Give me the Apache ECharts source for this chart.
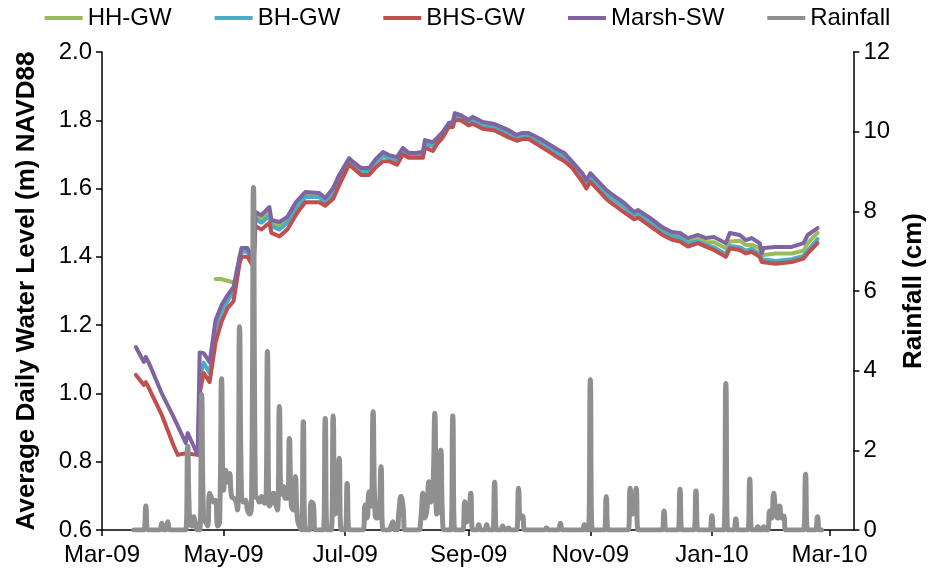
<!DOCTYPE html>
<html>
<head>
<meta charset="utf-8">
<script src="https://cdn.jsdelivr.net/npm/echarts@6/dist/echarts.min.js"></script>
<style>
html,body{margin:0;padding:0;background:#fff;}
#chart{width:935px;height:586px;}
</style>
</head>
<body>
<div id="chart"></div>
<script>
// ---- Data ----
const seriesNames = ['HH-GW', 'BH-GW', 'BHS-GW', 'Marsh-SW', 'Rainfall'];
const tickDates = ['2009-03-01','2009-05-01','2009-07-01','2009-09-01','2009-11-01','2010-01-01','2010-03-01'];
const tickLabels = ['Mar-09','May-09','Jul-09','Sep-09','Nov-09','Jan-10','Mar-10'];
const xMinDate = '2009-03-01';
const xMaxDate = '2010-03-13';

const levelDates = [
 '2009-03-18','2009-03-22','2009-03-23','2009-03-25','2009-03-31','2009-04-06','2009-04-08','2009-04-12','2009-04-13','2009-04-18',
 '2009-04-19','2009-04-21','2009-04-24','2009-04-27','2009-04-30','2009-05-03','2009-05-06','2009-05-07','2009-05-09','2009-05-10',
 '2009-05-13','2009-05-15','2009-05-16','2009-05-17','2009-05-20','2009-05-24','2009-05-25','2009-05-29','2009-06-02','2009-06-06',
 '2009-06-07','2009-06-11','2009-06-18','2009-06-21','2009-06-25','2009-06-28','2009-07-03','2009-07-05','2009-07-09','2009-07-13',
 '2009-07-16','2009-07-20','2009-07-23','2009-07-27','2009-07-30','2009-08-02','2009-08-05','2009-08-09','2009-08-10','2009-08-14',
 '2009-08-16','2009-08-19','2009-08-22','2009-08-24','2009-08-25','2009-08-28','2009-09-01','2009-09-03','2009-09-08','2009-09-14',
 '2009-09-21','2009-09-25','2009-09-28','2009-10-01','2009-10-08','2009-10-16','2009-10-19','2009-10-23','2009-10-28','2009-10-30',
 '2009-11-01','2009-11-09','2009-11-11','2009-11-18','2009-11-23','2009-11-25','2009-12-01','2009-12-07','2009-12-12','2009-12-16',
 '2009-12-20','2009-12-25','2009-12-29','2010-01-02','2010-01-08','2010-01-10','2010-01-15','2010-01-18','2010-01-21','2010-01-25',
 '2010-01-26','2010-01-27','2010-02-02','2010-02-10','2010-02-16','2010-02-18','2010-02-23'
];

const marshSw = [
 1.136,1.092,1.107,1.083,1.000,0.930,0.905,0.855,0.884,0.820,
 1.120,1.118,1.092,1.215,1.259,1.288,1.312,1.317,1.400,1.426,
 1.426,1.400,1.382,1.531,1.522,1.546,1.508,1.502,1.517,1.558,
 1.561,1.590,1.587,1.572,1.602,1.640,1.689,1.678,1.660,1.660,
 1.684,1.707,1.698,1.692,1.719,1.704,1.704,1.707,1.742,1.736,
 1.748,1.766,1.792,1.795,1.821,1.815,1.801,1.810,1.795,1.789,
 1.771,1.757,1.763,1.763,1.742,1.713,1.704,1.678,1.645,1.625,
 1.645,1.596,1.587,1.558,1.531,1.537,1.514,1.487,1.473,1.470,
 1.455,1.464,1.455,1.458,1.440,1.470,1.464,1.449,1.455,1.440,
 1.411,1.426,1.429,1.429,1.440,1.464,1.484
];

const bhsGw = [
 1.054,1.025,1.033,1.010,0.937,0.846,0.820,0.825,0.826,0.820,
 1.000,1.060,1.033,1.150,1.210,1.250,1.270,1.275,1.380,1.400,
 1.400,1.380,1.370,1.490,1.480,1.500,1.470,1.460,1.480,1.520,
 1.530,1.560,1.560,1.550,1.570,1.610,1.670,1.660,1.640,1.640,
 1.660,1.680,1.680,1.670,1.700,1.690,1.690,1.690,1.720,1.710,
 1.730,1.750,1.780,1.780,1.800,1.800,1.785,1.790,1.775,1.770,
 1.750,1.740,1.745,1.745,1.720,1.690,1.680,1.660,1.620,1.600,
 1.620,1.570,1.560,1.530,1.510,1.515,1.490,1.465,1.450,1.445,
 1.430,1.440,1.430,1.420,1.400,1.425,1.420,1.410,1.415,1.400,
 1.385,1.390,1.380,1.385,1.395,1.410,1.440
];

const bhGw = [
 null,null,null,null,null,null,null,null,null,null,
 1.050,1.090,1.060,1.190,1.240,1.270,1.300,1.300,1.390,1.415,
 1.415,1.390,1.375,1.510,1.500,1.520,1.490,1.480,1.500,1.540,
 1.545,1.575,1.575,1.560,1.585,1.625,1.680,1.670,1.650,1.650,
 1.675,1.695,1.690,1.680,1.710,1.695,1.695,1.695,1.730,1.725,
 1.740,1.755,1.785,1.785,1.810,1.805,1.790,1.800,1.780,1.780,
 1.760,1.745,1.750,1.750,1.730,1.700,1.690,1.670,1.635,1.610,
 1.630,1.580,1.575,1.545,1.520,1.525,1.500,1.475,1.460,1.455,
 1.440,1.445,1.435,1.428,1.408,1.432,1.428,1.418,1.423,1.408,
 1.393,1.398,1.388,1.393,1.403,1.418,1.452
];

const hhGw = [
 null,null,null,null,null,null,null,null,null,null,
 null,null,null,1.335,1.335,1.330,1.325,1.310,1.395,1.420,
 1.420,1.395,1.378,1.520,1.510,1.530,1.500,1.490,1.505,1.547,
 1.550,1.580,1.578,1.563,1.593,1.632,1.682,1.672,1.653,1.653,
 1.678,1.700,1.692,1.685,1.712,1.698,1.698,1.700,1.735,1.730,
 1.742,1.760,1.786,1.790,1.814,1.808,1.795,1.803,1.784,1.783,
 1.765,1.750,1.756,1.756,1.735,1.705,1.697,1.675,1.635,1.615,
 1.635,1.585,1.578,1.548,1.525,1.530,1.505,1.478,1.462,1.460,
 1.443,1.452,1.443,1.443,1.425,1.445,1.447,1.435,1.435,1.425,
 1.405,1.410,1.410,1.410,1.418,1.440,1.470
];

// Rainfall (cm): days with rain; every other day in the record is 0
const rainStart = '2009-03-17';
const rainEnd = '2010-02-25';
const rainDates = [
 '2009-03-23','2009-03-31','2009-04-03','2009-04-13','2009-04-14','2009-04-15','2009-04-16','2009-04-17','2009-04-20','2009-04-21',
 '2009-04-22','2009-04-23','2009-04-24','2009-04-25','2009-04-26','2009-04-27','2009-04-28','2009-04-29','2009-04-30','2009-05-01',
 '2009-05-02','2009-05-03','2009-05-04','2009-05-05','2009-05-06','2009-05-07','2009-05-08','2009-05-09','2009-05-10','2009-05-11',
 '2009-05-12','2009-05-13','2009-05-14','2009-05-15','2009-05-16','2009-05-17','2009-05-18','2009-05-19','2009-05-20','2009-05-21',
 '2009-05-22','2009-05-23','2009-05-24','2009-05-25','2009-05-26','2009-05-27','2009-05-28','2009-05-29','2009-05-30','2009-05-31',
 '2009-06-01','2009-06-02','2009-06-03','2009-06-04','2009-06-05','2009-06-06','2009-06-07','2009-06-08','2009-06-10','2009-06-14',
 '2009-06-15','2009-06-21','2009-06-25','2009-06-26','2009-06-27','2009-06-28','2009-07-02','2009-07-11','2009-07-12','2009-07-13',
 '2009-07-14','2009-07-15','2009-07-16','2009-07-17','2009-07-18','2009-07-19','2009-07-24','2009-07-25','2009-07-28','2009-07-29',
 '2009-07-30','2009-08-08','2009-08-09','2009-08-10','2009-08-11','2009-08-12','2009-08-13','2009-08-14','2009-08-15','2009-08-16',
 '2009-08-17','2009-08-18','2009-08-19','2009-08-24','2009-08-30','2009-08-31','2009-09-01','2009-09-02','2009-09-06','2009-09-10',
 '2009-09-14','2009-09-18','2009-09-21','2009-09-26','2009-09-27','2009-09-28','2009-10-10','2009-10-17','2009-10-29','2009-11-01',
 '2009-11-09','2009-11-21','2009-11-22','2009-11-23','2009-11-24','2009-12-08','2009-12-16','2009-12-24','2010-01-01','2010-01-08',
 '2010-01-13','2010-01-20','2010-01-24','2010-01-27','2010-01-30','2010-01-31','2010-02-01','2010-02-02','2010-02-03','2010-02-04',
 '2010-02-05','2010-02-06','2010-02-17','2010-02-23'
];
const rainValues = [
 0.60,0.17,0.21,2.10,0.20,0.10,0.33,0.15,3.40,0.25,
 0.20,0.10,0.92,0.80,0.70,0.75,0.10,0.20,3.80,1.00,
 1.50,1.20,1.42,0.84,0.80,0.75,0.50,5.10,0.90,0.70,
 0.75,0.50,0.40,0.60,8.60,0.84,0.80,0.70,0.84,0.70,
 0.67,4.48,0.60,0.70,0.92,0.67,0.50,3.10,0.90,1.09,
 0.80,0.80,2.30,0.60,0.50,1.34,0.30,0.10,2.72,0.70,
 0.65,2.80,2.86,0.40,0.60,1.80,1.17,0.63,0.30,0.96,
 0.60,2.97,0.40,0.30,0.40,1.59,0.10,0.21,0.50,0.84,
 0.60,0.30,0.92,0.30,0.50,1.21,0.70,1.00,2.93,0.40,
 0.50,2.00,0.10,2.86,0.71,0.20,0.30,0.92,0.13,0.13,
 1.20,0.10,0.05,1.05,0.30,0.35,0.05,0.17,0.13,3.77,
 0.84,1.05,0.40,0.45,1.05,0.48,1.02,0.98,0.36,3.68,
 0.28,1.28,0.08,0.08,0.48,0.30,0.92,0.50,0.30,0.60,
 0.30,0.35,1.40,0.33
];

// ---- helpers ----
function dayTime(s) {
  const p = s.split('-').map(Number);
  return Date.UTC(p[0], p[1] - 1, p[2]);
}
function pad(n) { return (n < 10 ? '0' : '') + n; }
function buildRain() {
  const map = {};
  rainDates.forEach((d, i) => { map[d] = rainValues[i]; });
  const out = [];
  let t = dayTime(rainStart);
  const tEnd = dayTime(rainEnd);
  while (t <= tEnd) {
    const dt = new Date(t);
    const key = dt.getUTCFullYear() + '-' + pad(dt.getUTCMonth() + 1) + '-' + pad(dt.getUTCDate());
    out.push([t, map[key] !== undefined ? map[key] : 0]);
    t += 86400000;
  }
  return out;
}
function pairs(vals) { return levelDates.map((d, i) => [dayTime(d), vals[i]]); }

const tickTimes = tickDates.map(dayTime);
const FONT = "'Liberation Sans', Arial, Helvetica, sans-serif";
const colors = ['#9bbb59', '#4bacc6', '#c0504d', '#8064a2', '#8f8f8f'];

function lineSeries(name, vals, color) {
  return {
    name: name, type: 'line', xAxisIndex: 0, yAxisIndex: 0,
    data: pairs(vals), showSymbol: false, symbol: 'none',
    connectNulls: false, color: color,
    lineStyle: { color: color, width: 4, cap: 'round', join: 'round' },
    itemStyle: { color: color }
  };
}

const chart = echarts.init(document.getElementById('chart'), null, { renderer: 'canvas' });
const axisBlack = { color: '#000', width: 1.5 };
chart.setOption({
  animation: false,
  backgroundColor: '#fff',
  textStyle: { fontFamily: FONT, color: '#000' },
  grid: { left: 102, right: 73, top: 52, bottom: 56, containLabel: false },
  legend: {
    top: 1, left: 'center', itemWidth: 38, itemHeight: 4, itemGap: 43,
    textStyle: { fontSize: 24, color: '#000', fontFamily: FONT },
    data: seriesNames.map((n, i) => ({ name: n, icon: 'rect', itemStyle: { color: colors[i] } }))
  },
  xAxis: {
    type: 'value', min: dayTime(xMinDate), max: dayTime(xMaxDate),
    axisLine: { show: true, lineStyle: axisBlack },
    axisTick: { show: true, customValues: tickTimes, length: 6, inside: false, lineStyle: axisBlack },
    axisLabel: {
      customValues: tickTimes, fontSize: 24, color: '#000', margin: 13, fontFamily: FONT,
      formatter: function (v) {
        let best = 0, bd = Infinity;
        tickTimes.forEach((t, i) => { const d = Math.abs(t - v); if (d < bd) { bd = d; best = i; } });
        return tickLabels[best];
      }
    },
    splitLine: { show: false }
  },
  yAxis: [
    {
      type: 'value', min: 0.6, max: 2.0, interval: 0.2, position: 'left',
      name: 'Average Daily Water Level (m) NAVD88', nameLocation: 'middle', nameGap: 62, nameRotate: 90,
      nameTextStyle: { fontSize: 26, fontWeight: 'bold', color: '#000', fontFamily: FONT },
      axisLine: { show: true, lineStyle: axisBlack },
      axisTick: { show: true, length: 6, inside: false, lineStyle: axisBlack },
      axisLabel: { fontSize: 24, color: '#000', margin: 10, fontFamily: FONT, formatter: v => v.toFixed(1) },
      splitLine: { show: false }
    },
    {
      type: 'value', min: 0, max: 12, interval: 2, position: 'right',
      name: 'Rainfall (cm)', nameLocation: 'middle', nameGap: 41, nameRotate: 90,
      nameTextStyle: { fontSize: 26, fontWeight: 'bold', color: '#000', fontFamily: FONT },
      axisLine: { show: true, lineStyle: axisBlack },
      axisTick: { show: true, length: 6, inside: false, lineStyle: axisBlack },
      axisLabel: { fontSize: 24, color: '#000', margin: 10, fontFamily: FONT },
      splitLine: { show: false }
    }
  ],
  series: [
    lineSeries(seriesNames[0], hhGw, colors[0]),
    lineSeries(seriesNames[1], bhGw, colors[1]),
    lineSeries(seriesNames[2], bhsGw, colors[2]),
    lineSeries(seriesNames[3], marshSw, colors[3]),
    {
      name: seriesNames[4], type: 'line', xAxisIndex: 0, yAxisIndex: 1,
      data: buildRain(), showSymbol: false, symbol: 'none', smooth: 0.5,
      color: colors[4], lineStyle: { color: colors[4], width: 5, join: 'round', cap: 'round' }, itemStyle: { color: colors[4] }
    }
  ]
});
</script>
</body>
</html>
